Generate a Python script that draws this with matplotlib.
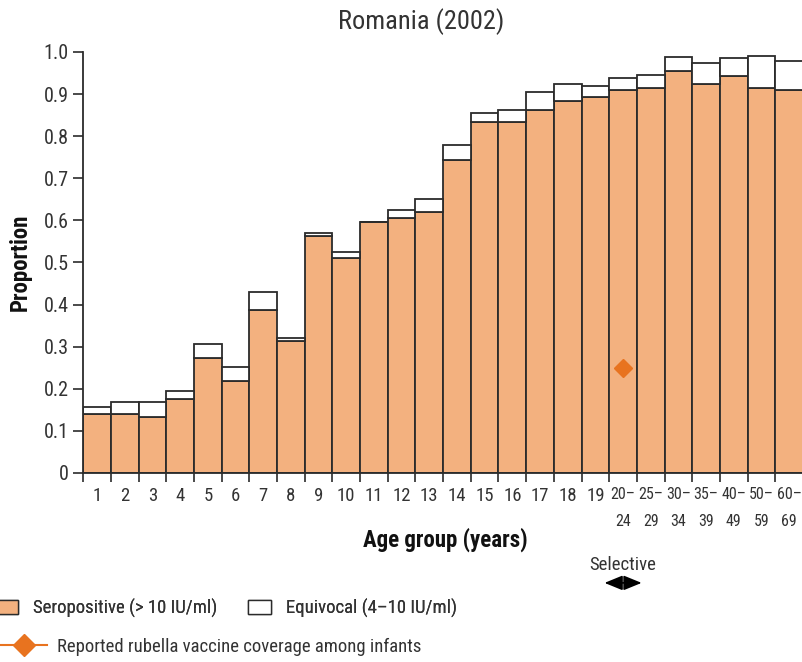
import matplotlib
matplotlib.use("Agg")
import matplotlib.pyplot as plt
from matplotlib.patches import Patch
from matplotlib.lines import Line2D
from matplotlib import font_manager

# Age groups and serology results, Romania 2002
age_groups = [str(i) for i in range(1, 20)] + ["20–\n24", "25–\n29", "30–\n34", "35–\n39",
                                              "40–\n49", "50–\n59", "60–\n69"]
seropositive = [0.140, 0.141, 0.134, 0.176, 0.272, 0.219, 0.387, 0.313, 0.564, 0.510,
                0.595, 0.606, 0.621, 0.743, 0.834, 0.834, 0.861, 0.883, 0.892, 0.910,
                0.915, 0.954, 0.923, 0.942, 0.915, 0.910]
equivocal = [0.017, 0.027, 0.034, 0.018, 0.035, 0.033, 0.043, 0.007, 0.006, 0.015,
             0.002, 0.019, 0.029, 0.035, 0.020, 0.029, 0.045, 0.041, 0.026, 0.029,
             0.031, 0.034, 0.051, 0.043, 0.075, 0.069]
# Reported infant rubella vaccine coverage (selective vaccination)
coverage_group = 19
coverage_value = [0.25]

yticks = [0, 0.1, 0.2, 0.3, 0.4, 0.5, 0.6, 0.7, 0.8, 0.9, 1.0]
ytick_labels = ["0", "0.1", "0.2", "0.3", "0.4", "0.5", "0.6", "0.7", "0.8", "0.9", "1.0"]

# Prefer a narrow sans face for the labels
fonts = font_manager.fontManager.ttflist
narrow = [f for f in fonts if f.stretch in ("condensed", "semi-condensed", "extra-condensed")
          or "Narrow" in f.name or "Condensed" in f.name]
narrow_regular = [f for f in narrow if f.weight in (400, "normal", "regular") and f.style == "normal"]
narrow_bold = [f for f in narrow if f.weight in (700, "bold") and f.style == "normal"]

def pick(cands, fallback):
    for pref in ("Liberation Sans Narrow", "Roboto Condensed", "Open Sans", "Noto Sans",
                 "DejaVu Sans"):
        for f in cands:
            if f.name == pref:
                return font_manager.FontProperties(fname=f.fname)
    if cands:
        return font_manager.FontProperties(fname=cands[0].fname)
    return font_manager.FontProperties(family=fallback)

FP = pick(narrow_regular, "DejaVu Sans")
FPB = pick(narrow_bold, "DejaVu Sans")
if not narrow_bold:
    FPB.set_weight("bold")

def fp(size, bold=False):
    p = (FPB if bold else FP).copy()
    p.set_size(size)
    return p

ORANGE = "#F3B17F"
DIAMOND = "#E8731F"
EDGE = "#2b2b2b"
TEXT = "#333333"

fig = plt.figure(figsize=(8.03, 6.62), dpi=100)
ax = fig.add_axes([0.1037, 0.2855, 0.8963, 0.636])

x = list(range(len(age_groups)))
ax.bar(x, seropositive, width=1.0, align="edge", color=ORANGE, edgecolor=EDGE, linewidth=1.3)
ax.bar(x, equivocal, width=1.0, align="edge", bottom=seropositive, color="white",
       edgecolor=EDGE, linewidth=1.3)
ax.plot([coverage_group + 0.5], coverage_value, marker="D", color=DIAMOND, markersize=9.5,
        linestyle="none", zorder=5)

ax.set_xlim(0, len(age_groups))
ax.set_ylim(0, 1.0)
for s in ("top", "right"):
    ax.spines[s].set_visible(False)
for s in ("left", "bottom"):
    ax.spines[s].set_linewidth(1.3)
    ax.spines[s].set_color(EDGE)

ax.set_yticks(yticks)
ax.set_yticklabels(ytick_labels, fontproperties=fp(14.5), color=TEXT)
ax.tick_params(axis="y", length=7.5, width=1.2, color=EDGE, pad=3)

ax.set_xticks(range(len(age_groups) + 1))
ax.set_xticklabels([])
ax.set_xticks([i + 0.5 for i in x], minor=True)
ax.set_xticklabels(age_groups, minor=True, linespacing=2.0, va="top", color=TEXT)
for i, lab in enumerate(ax.get_xticklabels(minor=True)):
    lab.set_fontproperties(fp(13.5 if i < 19 else 11.5))
ax.tick_params(axis="x", which="major", length=6.5, width=1.2, color=EDGE)
ax.tick_params(axis="x", which="minor", length=0, pad=10)

ax.set_ylabel("Proportion", fontproperties=fp(16.5, True), color="#111111")
ax.yaxis.label.set_va("center")
ax.yaxis.label.set_ha("center")
ax.yaxis.set_label_coords(-0.088, 0.5)
ax.set_xlabel("Age group (years)", fontproperties=fp(16.5, True), color="#111111")
ax.xaxis.label.set_va("center")
ax.xaxis.set_label_coords(0.503, -0.159)
fig.text(421 / 803, 1 - 22 / 662, "Romania (2002)", fontproperties=fp(19), color=TEXT,
         ha="center", va="center")

# Selective vaccination marker below the axis
ax.annotate("", xy=(coverage_group + 0.5 - 0.67, -0.261),
            xytext=(coverage_group + 0.5 + 0.67, -0.261),
            xycoords=("data", "axes fraction"), textcoords=("data", "axes fraction"),
            arrowprops=dict(arrowstyle="<|-|>,head_length=1.1,head_width=0.45",
                            color="black", lw=1.2, shrinkA=0, shrinkB=0),
            annotation_clip=False)
ax.text(coverage_group + 0.5, -0.219, "Selective", transform=ax.get_xaxis_transform(),
        ha="center", va="center", fontproperties=fp(13.5), color=TEXT)

h1 = [Patch(facecolor=ORANGE, edgecolor=EDGE, linewidth=1.0),
      Patch(facecolor="white", edgecolor=EDGE, linewidth=1.0)]
leg1 = fig.legend(h1, ["Seropositive (> 10 IU/ml)", "Equivocal (4–10 IU/ml)"],
                  loc="center left", bbox_to_anchor=(-0.027, 1 - 608 / 662), ncol=2,
                  frameon=False, prop=fp(13.5), handlelength=1.23, handleheight=0.75,
                  handletextpad=0.8, columnspacing=1.6, borderpad=0.4, labelcolor=TEXT)
h2 = [Line2D([0], [0], color=DIAMOND, marker="D", markersize=11, lw=1.5)]
leg2 = fig.legend(h2, ["Reported rubella vaccine coverage among infants"],
                  loc="center left", bbox_to_anchor=(-0.0205, 1 - 647 / 662), frameon=False,
                  prop=fp(13.5), handlelength=2.5, handletextpad=0.53, borderpad=0.4,
                  labelcolor=TEXT)
fig.add_artist(leg1)

fig.savefig("out.png", dpi=100)
